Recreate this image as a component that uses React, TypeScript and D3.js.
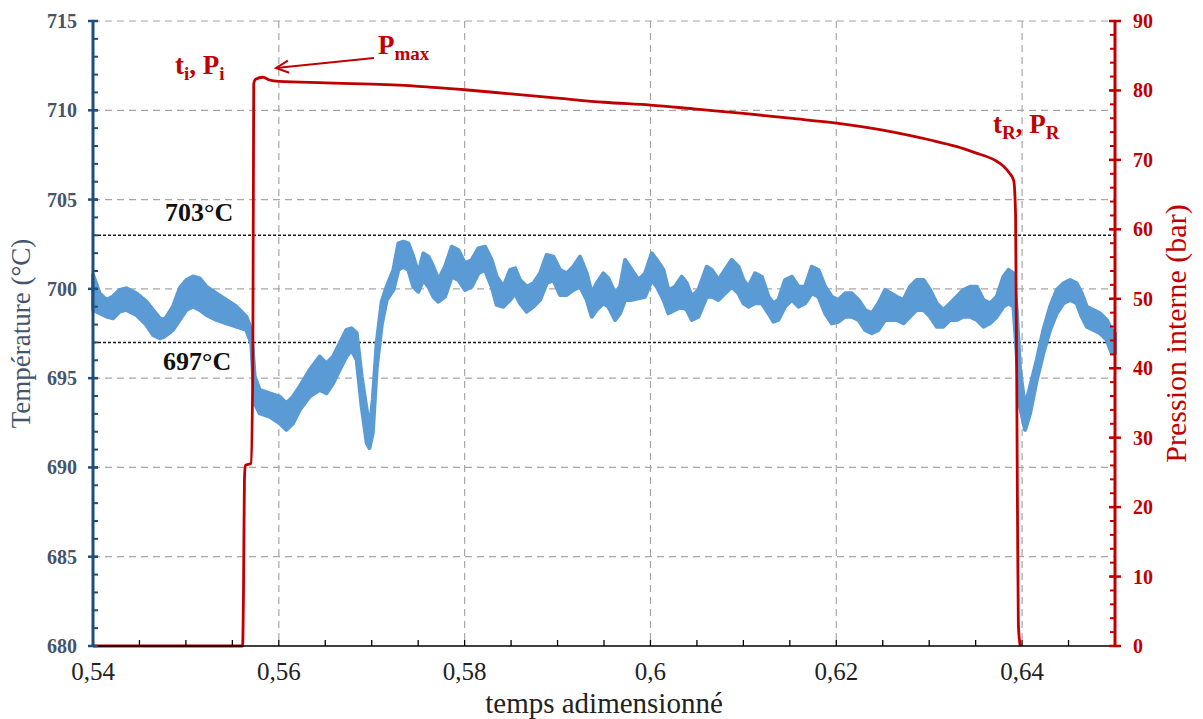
import React from "react";
import * as d3 from "d3";

// ---------- data ----------
// Temperature band (noisy signal envelope): time, upper, lower (°C)
const tempTime = [
  0.54, 0.54072, 0.54144, 0.54215, 0.54287, 0.54359, 0.54466, 0.54574, 0.54646, 0.54718,
  0.54771, 0.54861, 0.54933, 0.55005, 0.55076, 0.55148, 0.5522, 0.55328, 0.55435, 0.55543,
  0.5565, 0.55704, 0.5574, 0.55794, 0.55902, 0.56009, 0.56081, 0.56153, 0.56225, 0.56332,
  0.5644, 0.56512, 0.56584, 0.56655, 0.56727, 0.56781, 0.56838, 0.56892, 0.56946, 0.56975,
  0.57011, 0.57054, 0.57108, 0.57161, 0.57233, 0.57287, 0.5734, 0.57394, 0.57448, 0.57502,
  0.57556, 0.5761, 0.57663, 0.57717, 0.57789, 0.57861, 0.57932, 0.58004, 0.58076, 0.58148,
  0.5822, 0.58291, 0.58345, 0.58417, 0.58489, 0.58543, 0.58596, 0.58668, 0.5874, 0.58812,
  0.58883, 0.58955, 0.59027, 0.59099, 0.5917, 0.59242, 0.59314, 0.59368, 0.59421, 0.59493,
  0.59547, 0.59619, 0.59673, 0.59727, 0.59799, 0.59871, 0.59942, 0.60014, 0.60068, 0.6014,
  0.60193, 0.60265, 0.60337, 0.60391, 0.60445, 0.60516, 0.60606, 0.6066, 0.60732, 0.60803,
  0.60875, 0.60947, 0.61001, 0.61055, 0.61126, 0.61198, 0.6127, 0.61324, 0.61377, 0.61449,
  0.61521, 0.61593, 0.61665, 0.61736, 0.61808, 0.6188, 0.61952, 0.62023, 0.62095, 0.62167,
  0.62239, 0.6231, 0.62382, 0.62454, 0.62526, 0.62651, 0.62723, 0.62794, 0.62866, 0.62938,
  0.6301, 0.63081, 0.63153, 0.63225, 0.63297, 0.63368, 0.6344, 0.63512, 0.63584, 0.63655,
  0.63727, 0.63799, 0.63853, 0.63907, 0.63942, 0.63978, 0.64032, 0.64086, 0.64158, 0.64229,
  0.64301, 0.64373, 0.64445, 0.64517, 0.64588, 0.64642, 0.64696, 0.64768, 0.64839, 0.64911,
  0.64965, 0.65,
];
const tempHigh = [
  700.78, 699.75, 699.38, 699.57, 699.94, 700.03, 699.75, 699.29, 698.82, 698.35,
  698.26, 699.01, 700.03, 700.5, 700.69, 700.59, 700.13, 699.75, 699.38, 699.01,
  698.45, 697.7, 695.09, 694.34, 694.15, 693.97, 693.59, 693.97, 694.53, 695.46,
  696.21, 695.83, 696.21, 696.95, 697.7, 697.79, 697.53, 695.08, 693.22, 692.1,
  693.78, 697.0, 699.3, 700.12, 701.06, 702.55, 702.64, 702.55, 701.8, 700.87,
  701.99, 701.8, 701.24, 700.5, 701.24, 702.36, 702.18, 701.43, 701.62, 702.27,
  702.36, 701.62, 700.68, 700.12, 701.06, 701.15, 700.5, 700.12, 700.31, 700.87,
  701.9, 701.8, 701.06, 700.87, 701.24, 701.8, 700.87, 699.75, 700.31, 700.87,
  700.59, 699.75, 700.12, 701.62, 701.06, 700.5, 700.87, 701.99, 701.62, 701.06,
  699.94, 700.12, 700.68, 700.31, 699.56, 699.94, 701.24, 701.06, 700.5, 701.06,
  701.62, 701.24, 700.5, 700.12, 700.87, 700.68, 699.56, 699.19, 699.38, 700.5,
  700.68, 700.12, 700.12, 701.24, 701.06, 700.12, 699.56, 699.38, 699.75, 699.75,
  699.38, 698.82, 698.63, 699.19, 699.94, 699.56, 699.38, 700.12, 700.5, 700.5,
  699.94, 699.19, 698.82, 699.19, 699.56, 699.94, 700.12, 700.12, 699.38, 699.19,
  699.56, 700.68, 701.06, 700.87, 698.82, 695.46, 693.4, 694.52, 696.02, 697.7,
  699.0, 699.94, 700.31, 700.5, 700.31, 699.75, 699.0, 698.82, 698.63, 698.26,
  697.7, 697.51,
];
const tempLow = [
  698.82, 698.63, 698.45, 698.35, 698.73, 698.82, 698.54, 697.98, 697.42, 697.23,
  697.33, 697.7, 698.26, 698.82, 699.01, 698.82, 698.54, 698.26, 698.07, 697.89,
  697.7, 696.95, 693.59, 693.03, 692.85, 692.47, 692.1, 692.47, 693.22, 693.97,
  694.34, 694.15, 694.71, 695.46, 696.21, 696.58, 696.02, 693.4, 691.37, 691.09,
  691.93, 695.6, 698.0, 699.38, 699.94, 701.06, 701.24, 701.06, 700.12, 699.84,
  700.5, 700.12, 699.56, 699.28, 699.56, 700.68, 700.5, 699.94, 700.12, 700.87,
  701.06, 700.12, 699.1, 699.0, 699.38, 699.75, 699.19, 698.72, 699.0, 699.38,
  700.31, 700.5, 699.66, 699.66, 699.94, 700.12, 699.38, 698.44, 698.82, 699.19,
  699.0, 698.26, 698.63, 699.38, 699.38, 699.47, 699.56, 700.5, 700.12, 699.38,
  698.63, 698.82, 699.0, 698.82, 698.26, 698.44, 699.56, 699.56, 699.38, 699.75,
  700.12, 699.75, 699.19, 699.0, 699.19, 699.19, 698.63, 698.16, 698.26, 699.0,
  699.38, 699.0, 699.19, 699.75, 699.56, 698.63, 698.07, 698.16, 698.44, 698.44,
  698.26, 697.7, 697.51, 697.7, 698.26, 698.26, 698.07, 698.44, 698.82, 698.82,
  698.44, 697.88, 697.88, 698.26, 698.26, 698.44, 698.44, 698.26, 697.88, 698.07,
  698.44, 699.0, 699.19, 699.0, 696.39, 693.4, 692.1, 693.03, 694.9, 696.39,
  697.7, 698.63, 699.19, 699.38, 699.19, 698.44, 697.88, 697.7, 697.51, 697.14,
  696.39, 696.39,
];

// Internal pressure (bar)
const presTime = [
  0.54, 0.5561, 0.5562, 0.5563, 0.5564, 0.557, 0.5572, 0.5573, 0.5575, 0.5583,
  0.559, 0.56, 0.565, 0.57, 0.575, 0.58, 0.585, 0.59, 0.595, 0.6,
  0.605, 0.61, 0.615, 0.62, 0.625, 0.628, 0.63, 0.633, 0.635, 0.637,
  0.638, 0.6387, 0.6391, 0.6393, 0.6395, 0.6396, 0.6398,
];
const presValue = [
  0, 0, 8, 24, 26, 26.3, 40, 81.0, 81.6, 81.9,
  81.5, 81.3, 81.1, 80.9, 80.6, 80.1, 79.5, 78.9, 78.3, 77.9,
  77.3, 76.7, 76.0, 75.3, 74.3, 73.5, 72.9, 71.9, 71.0, 70.0,
  69.1, 68.0, 67.0, 62, 20, 3, 0,
];

const xTicksMajor = [0.54, 0.56, 0.58, 0.6, 0.62, 0.64];
const xTickLabels = ["0,54", "0,56", "0,58", "0,6", "0,62", "0,64"];
const tempTicks = [680, 685, 690, 695, 700, 705, 710, 715];
const presTicks = [0, 10, 20, 30, 40, 50, 60, 70, 80, 90];
const thresholds = [703, 697];

// ---------- layout ----------
const W = 1203;
const H = 719;
const L = 93;
const R = 1115;
const T = 21;
const B = 646;

const RED = "#c00000";
const BLUE_AXIS = "#1f4e79";
const SLATE = "#44546a";
const FILL = "#5b9bd5";
const SERIF = "'Liberation Serif', 'Times New Roman', serif";

export default function App() {
  const x = d3.scaleLinear().domain([0.54, 0.65]).range([L, R]);
  const yT = d3.scaleLinear().domain([680, 715]).range([B, T]);
  const yP = d3.scaleLinear().domain([0, 90]).range([B, T]);

  const tempIdx = d3.range(tempTime.length);
  const area = d3
    .area<number>()
    .x((i) => x(tempTime[i]))
    .y0((i) => yT(tempLow[i]))
    .y1((i) => yT(tempHigh[i]));

  const presIdx = d3.range(presTime.length);
  const line = d3
    .line<number>()
    .x((i) => x(presTime[i]))
    .y((i) => yP(presValue[i]))
    .curve(d3.curveMonotoneX);

  const xMinor = d3.range(0, 23).map((k) => 0.54 + k * 0.005);
  const tMinor = d3.range(680, 716, 1);
  const pMinor = d3.range(0, 91, 2);

  // arrow for Pmax
  const ax0 = 374, ay0 = 58, ax1 = 276, ay1 = 68;
  const ang = Math.atan2(ay0 - ay1, ax0 - ax1);
  const hl = 14, ha = 0.45;
  const head = `M${ax1 + hl * Math.cos(ang + ha)},${ay1 + hl * Math.sin(ang + ha)} L${ax1},${ay1} L${ax1 + hl * Math.cos(ang - ha)},${ay1 + hl * Math.sin(ang - ha)}`;

  return (
    <svg
      width={W}
      height={H}
      style={{ position: "absolute", left: 0, top: 0, background: "#fff" }}
      fontFamily={SERIF}
    >
      {/* grid */}
      {tempTicks.slice(1).map((v) => (
        <line key={"gh" + v} x1={L} x2={R} y1={yT(v)} y2={yT(v)} stroke="#a6a6a6" strokeWidth={1.2} strokeDasharray="7,5" />
      ))}
      {xTicksMajor.slice(1).map((v) => (
        <line key={"gv" + v} x1={x(v)} x2={x(v)} y1={T} y2={B} stroke="#a6a6a6" strokeWidth={1.2} strokeDasharray="7,5" />
      ))}
      {/* thresholds */}
      {thresholds.map((v) => (
        <line key={"th" + v} x1={L} x2={R} y1={yT(v)} y2={yT(v)} stroke="#1a1a1a" strokeWidth={1.6} strokeDasharray="3,2" />
      ))}
      {/* temperature */}
      <path d={area(tempIdx) || ""} fill={FILL} stroke={FILL} strokeWidth={4} strokeLinejoin="round" />
      {/* pressure */}
      <path d={line(presIdx) || ""} fill="none" stroke={RED} strokeWidth={2.8} strokeLinejoin="round" />

      {/* x axis */}
      <line x1={L} x2={R} y1={B} y2={B} stroke="#000" strokeWidth={1.5} />
      {xMinor.map((v, i) => (
        <line key={"xm" + i} x1={x(v)} x2={x(v)} y1={B} y2={B - 6} stroke="#000" strokeWidth={1.3} />
      ))}
      {xTicksMajor.map((v, i) => (
        <text key={"xl" + i} x={x(v)} y={680} textAnchor="middle" fontSize={25} fill="#222">
          {xTickLabels[i]}
        </text>
      ))}
      <text x={604} y={713} textAnchor="middle" fontSize={29} fill="#222">
        temps adimensionné
      </text>

      {/* left axis */}
      <line x1={L} x2={L} y1={T} y2={B} stroke={BLUE_AXIS} strokeWidth={3} />
      {tMinor.map((v) => (
        <line key={"tm" + v} x1={L} x2={L + 5} y1={yT(v)} y2={yT(v)} stroke={BLUE_AXIS} strokeWidth={2} />
      ))}
      {tempTicks.map((v) => (
        <g key={"tt" + v}>
          <line x1={L - 5} x2={L + 5} y1={yT(v)} y2={yT(v)} stroke={BLUE_AXIS} strokeWidth={2.5} />
          <text x={77} y={yT(v)} dy="0.35em" textAnchor="end" fontSize={20} fontWeight="bold" fill={SLATE}>
            {v}
          </text>
        </g>
      ))}
      <text
        transform={`translate(30,${(T + B) / 2}) rotate(-90)`}
        textAnchor="middle"
        fontSize={27}
        fill={SLATE}
      >
        Température (°C)
      </text>

      {/* right axis */}
      <line x1={R} x2={R} y1={T} y2={B} stroke={RED} strokeWidth={3} />
      {pMinor.map((v) => (
        <line key={"pm" + v} x1={R - 5} x2={R} y1={yP(v)} y2={yP(v)} stroke={RED} strokeWidth={2} />
      ))}
      {presTicks.map((v) => (
        <g key={"pt" + v}>
          <line x1={R - 6} x2={R + 6} y1={yP(v)} y2={yP(v)} stroke={RED} strokeWidth={2.5} />
          <text x={1133} y={yP(v)} dy="0.35em" textAnchor="start" fontSize={20} fontWeight="bold" fill={RED}>
            {v}
          </text>
        </g>
      ))}
      <text
        transform={`translate(1186,${(T + B) / 2}) rotate(-90)`}
        textAnchor="middle"
        fontSize={30}
        fill={RED}
      >
        Pression interne (bar)
      </text>

      {/* threshold labels */}
      <text x={165} y={221} fontSize={26} fontWeight="bold" fill="#111">703°C</text>
      <text x={163} y={370} fontSize={26} fontWeight="bold" fill="#111">697°C</text>

      {/* annotations */}
      <text x={175} y={74} fontSize={27} fontWeight="bold" fill={RED}>
        t<tspan dy={6} fontSize={19}>i</tspan>
        <tspan dy={-6}>, P</tspan>
        <tspan dy={6} fontSize={19}>i</tspan>
      </text>
      <text x={378} y={54} fontSize={27} fontWeight="bold" fill={RED}>
        P<tspan dy={6} fontSize={19}>max</tspan>
      </text>
      <line x1={ax0} y1={ay0} x2={ax1} y2={ay1} stroke={RED} strokeWidth={2} />
      <path d={head} fill="none" stroke={RED} strokeWidth={2} />
      <text x={993} y={133} fontSize={27} fontWeight="bold" fill={RED}>
        t<tspan dy={6} fontSize={19}>R</tspan>
        <tspan dy={-6}>, P</tspan>
        <tspan dy={6} fontSize={19}>R</tspan>
      </text>
    </svg>
  );
}
